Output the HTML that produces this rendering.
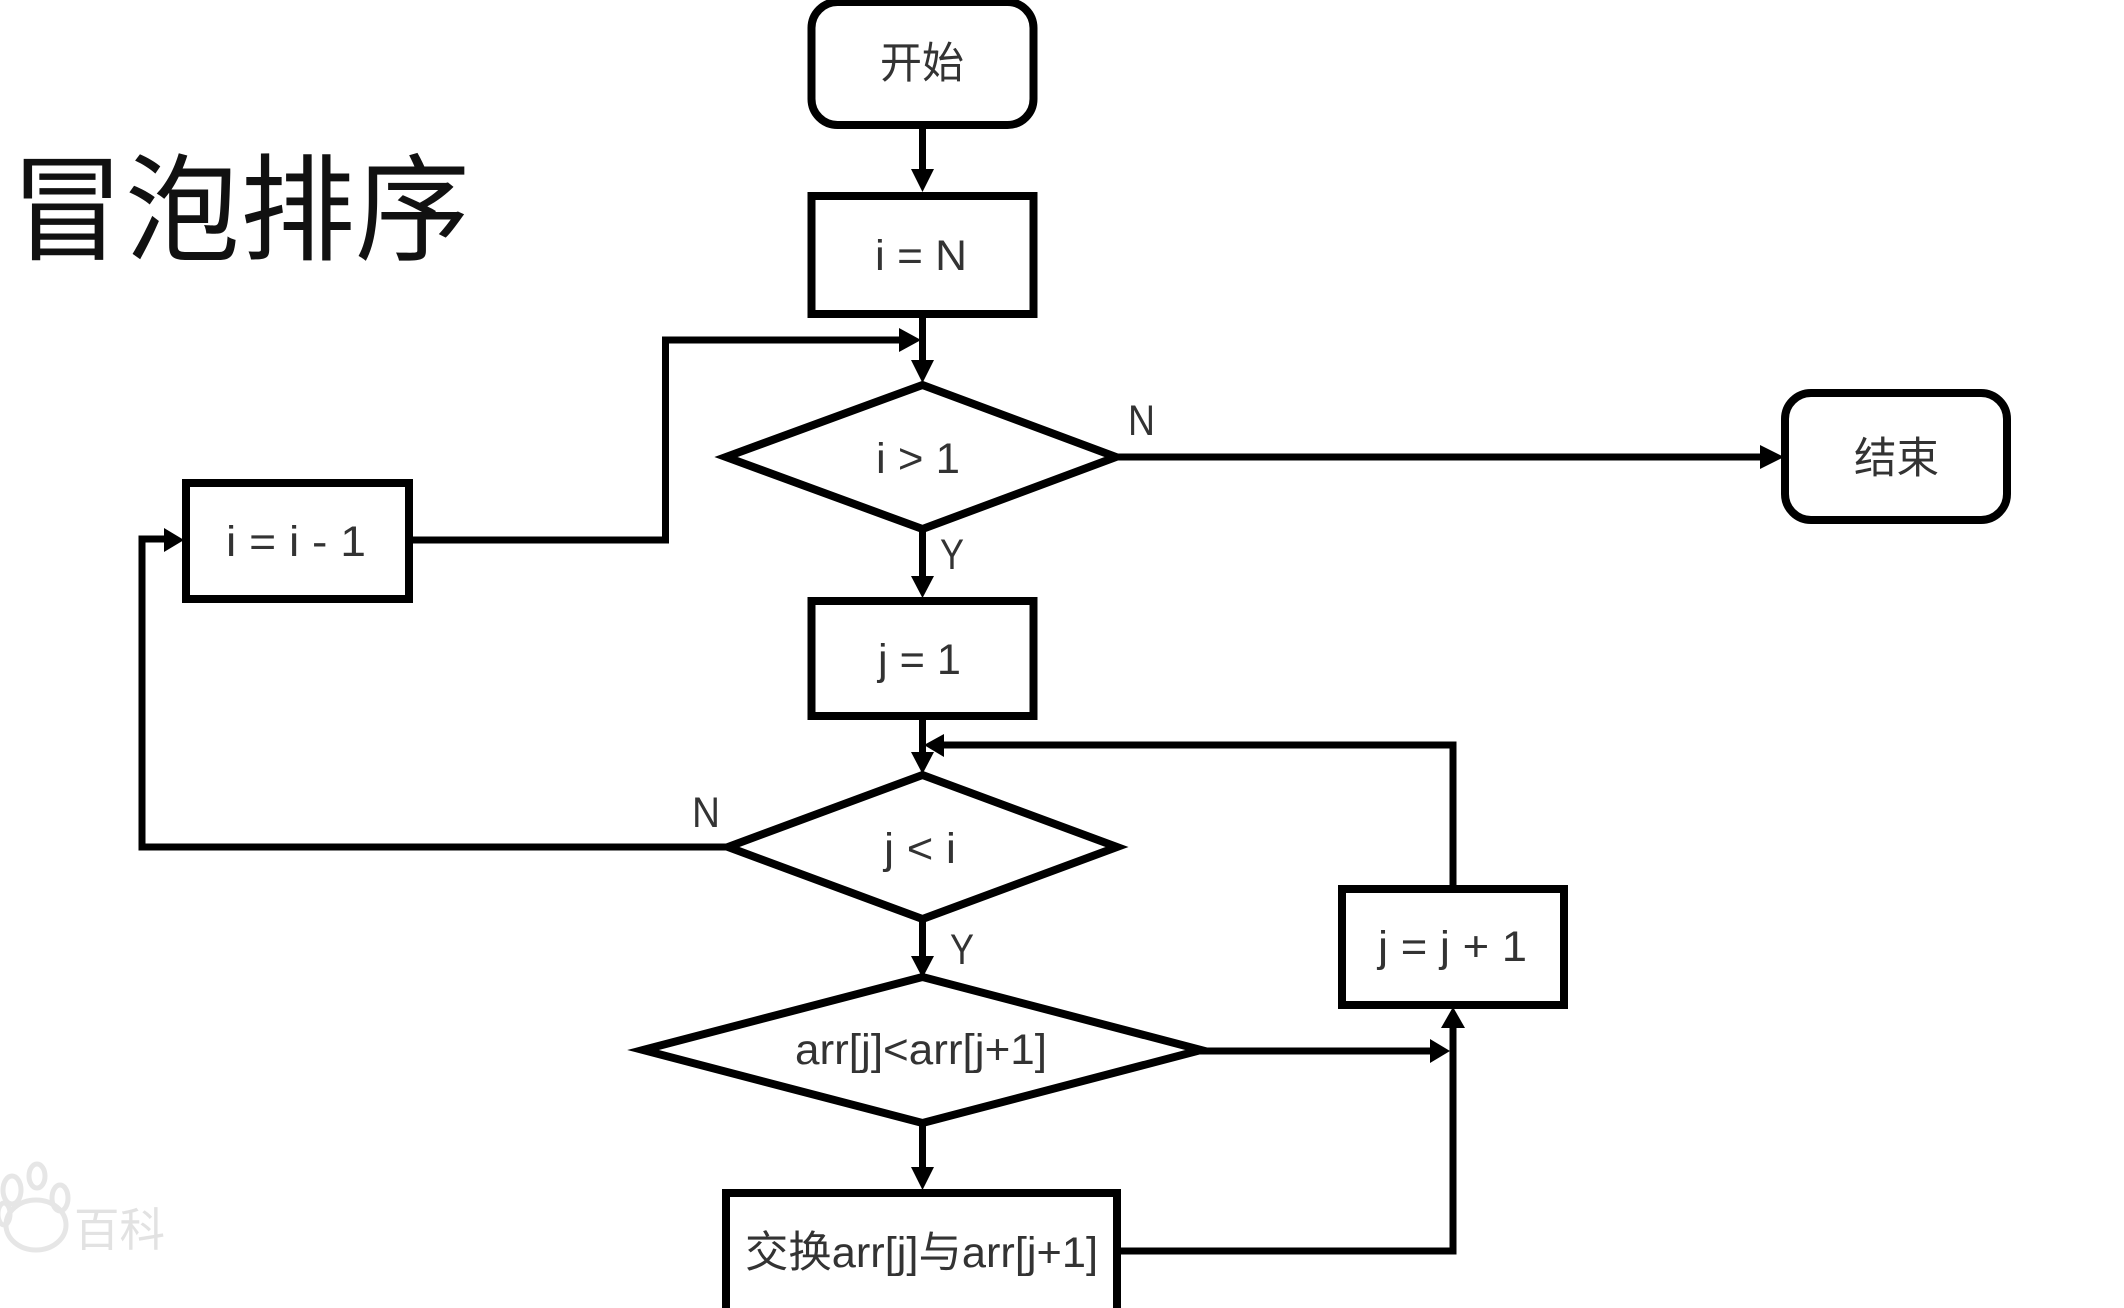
<!DOCTYPE html>
<html><head><meta charset="utf-8"><style>
html,body{margin:0;padding:0;background:#fff;width:2124px;height:1308px;overflow:hidden}
svg{display:block}
text{font-family:"Liberation Sans","Noto Sans CJK SC",sans-serif;fill:#333;font-size:43px}
</style></head><body>
<svg width="2124" height="1308" viewBox="0 0 2124 1308" xmlns="http://www.w3.org/2000/svg">
<rect width="2124" height="1308" fill="#fff"/>
<g fill="none" stroke="#e6e6e6" stroke-width="5">
<ellipse cx="36" cy="1225" rx="30" ry="25"/><ellipse cx="12" cy="1190" rx="9" ry="14"/><ellipse cx="37" cy="1176" rx="8" ry="12"/><ellipse cx="60" cy="1198" rx="8" ry="13"/><ellipse cx="4" cy="1214" rx="6" ry="11"/>
</g>
<text x="74" y="1246" textLength="91" lengthAdjust="spacingAndGlyphs" style="font-size:46px;fill:#e2e2e2">百科</text>

<text x="10" y="251" textLength="460" lengthAdjust="spacingAndGlyphs" style="font-size:116px;fill:#111">冒泡排序</text>

<g fill="#fff" stroke="#000" stroke-width="8">
<rect x="811.500" y="2" width="222" height="123" rx="26"/>
<rect x="811.500" y="196" width="222" height="118"/>
<polygon points="726,457 922.5,385 1116,457 922.5,529" stroke-miterlimit="10"/>
<rect x="1785" y="393" width="222" height="127" rx="26"/>
<rect x="186" y="483" width="223" height="116"/>
<rect x="811.500" y="601" width="222" height="115"/>
<polygon points="728,847 922.500,775 1117,847 922.500,919" stroke-miterlimit="10"/>
<polygon points="643,1050 922.500,977 1201,1050 922.500,1123" stroke-miterlimit="10"/>
<rect x="1342" y="889" width="222" height="116"/>
<rect x="726" y="1193" width="391" height="130"/>
</g>

<g fill="none" stroke="#000" stroke-width="7">
<path d="M922.500 128V175"/>
<path d="M922.500 317V365"/>
<path d="M412 540H665.500V340H903"/>
<path d="M922.500 531V582"/>
<path d="M922.500 719V757"/>
<path d="M1115 457H1764"/>
<path d="M726 847H142V539H168"/>
<path d="M922.500 921V961"/>
<path d="M922.500 1123V1172"/>
<path d="M1200 1051H1434"/>
<path d="M1120 1251H1453V1025"/>
<path d="M1453 885V745H940"/>
</g>

<g fill="#000">
<polygon points="911,169 934,169 922.500,192"/>
<polygon points="911,360 934,360 922.500,383"/>
<polygon points="899,328 899,352 921,340"/>
<polygon points="911,576 934,576 922.500,598"/>
<polygon points="911,752 934,752 922.500,774"/>
<polygon points="1760,445 1760,469 1784,457"/>
<polygon points="164,528 164,552 184,540"/>
<polygon points="911,956 934,956 922.500,978"/>
<polygon points="911,1167 934,1167 922.500,1190"/>
<polygon points="1430,1039 1430,1063 1450,1051"/>
<polygon points="1441,1028 1465,1028 1453,1007"/>
<polygon points="944,734 944,757 924,745"/>
</g>

<text x="880" y="78" textLength="84" lengthAdjust="spacingAndGlyphs">开始</text>
<text x="875" y="270" textLength="92" lengthAdjust="spacingAndGlyphs">i = N</text>
<text x="876" y="473" textLength="84" lengthAdjust="spacingAndGlyphs">i &gt; 1</text>
<text x="940" y="569" textLength="24" lengthAdjust="spacingAndGlyphs">Y</text>
<text x="1128" y="435" textLength="27" lengthAdjust="spacingAndGlyphs">N</text>
<text x="1854" y="473" textLength="85" lengthAdjust="spacingAndGlyphs">结束</text>
<text x="226" y="556" textLength="140" lengthAdjust="spacingAndGlyphs">i = i - 1</text>
<text x="878" y="674" textLength="83" lengthAdjust="spacingAndGlyphs">j = 1</text>
<text x="884" y="863" textLength="72" lengthAdjust="spacingAndGlyphs">j &lt; i</text>
<text x="692" y="827" textLength="28" lengthAdjust="spacingAndGlyphs">N</text>
<text x="950" y="964" textLength="24" lengthAdjust="spacingAndGlyphs">Y</text>
<text x="795" y="1064" textLength="252" lengthAdjust="spacingAndGlyphs">arr[j]&lt;arr[j+1]</text>
<text x="745" y="1267" textLength="353" lengthAdjust="spacingAndGlyphs">交换arr[j]与arr[j+1]</text>
<text x="1378" y="961" textLength="149" lengthAdjust="spacingAndGlyphs">j = j + 1</text>
</svg>
</body></html>
